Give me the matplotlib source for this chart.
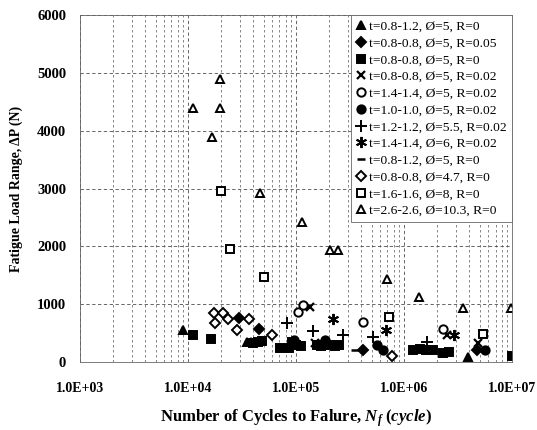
import matplotlib; matplotlib.use("Agg")
import matplotlib.pyplot as plt
from matplotlib.ticker import FixedLocator, FuncFormatter, LogLocator, NullFormatter

plt.rcParams["font.family"] = ["Liberation Serif", "DejaVu Serif"]
plt.rcParams["mathtext.fontset"] = "custom"
plt.rcParams["mathtext.it"] = "Liberation Serif:bold:italic"
plt.rcParams["mathtext.rm"] = "Liberation Serif:bold"

# ── data ──
labels = ["t=0.8-1.2, Ø=5, R=0", "t=0.8-0.8, Ø=5, R=0.05", "t=0.8-0.8, Ø=5, R=0",
          "t=0.8-0.8, Ø=5, R=0.02", "t=1.4-1.4, Ø=5, R=0.02", "t=1.0-1.0, Ø=5, R=0.02",
          "t=1.2-1.2, Ø=5.5, R=0.02", "t=1.4-1.4, Ø=6, R=0.02", "t=0.8-1.2, Ø=5, R=0",
          "t=0.8-0.8, Ø=4.7, R=0", "t=1.6-1.6, Ø=8, R=0", "t=2.6-2.6, Ø=10.3, R=0"]

tri_f_x = [9000, 35000, 38500, 3.9e6]
tri_f_y = [550, 340, 350, 90]
dia_f_x = [29600, 45400, 417000, 4.7e6]
dia_f_y = [760, 570, 210, 200]
sq_f_x = [11100, 16300, 40000, 44000, 48000, 71000, 85000, 92000, 100000, 110000,
          155000, 170000, 205000, 230000, 250000, 1.2e6, 1.4e6, 1.6e6, 1.85e6,
          2.3e6, 2.6e6, 1.0e7]
sq_f_y = [470, 400, 330, 350, 360, 240, 250, 350, 300, 280,
          300, 280, 300, 280, 300, 200, 220, 210, 200,
          150, 180, 110]
x_x = [135000, 150000, 2.5e6, 4.8e6]
x_y = [960, 330, 460, 330]
circ_o_x = [104000, 116000, 417000, 2.3e6]
circ_o_y = [860, 980, 690, 570]
circ_f_x = [95000, 186000, 560000, 640000, 5.6e6]
circ_f_y = [380, 380, 290, 210, 210]
plus_x = [82600, 143000, 272000, 516000, 1.63e6]
plus_y = [670, 540, 470, 430, 350]
star_x = [220000, 681000, 2.9e6]
star_y = [740, 550, 460]
dash_x = [352000]
dash_y = [210]
dia_o_x = [17400, 21100, 17800, 23500, 28400, 36700, 60000, 774000]
dia_o_y = [850, 850, 680, 750, 550, 740, 470, 110]
sq_o_x = [20200, 24500, 50600, 727000, 5.3e6]
sq_o_y = [2950, 1950, 1470, 780, 480]
tri_o_x = [11100, 16700, 19800, 19800, 46400, 113600, 205000, 245000,
           697000, 1.38e6, 3.52e6, 9.8e6]
tri_o_y = [4400, 3900, 4400, 4900, 2920, 2420, 1930, 1930,
           1440, 1120, 940, 940]

series = [(tri_f_x, tri_f_y, dict(marker="^", mfc="k")),
          (dia_f_x, dia_f_y, dict(marker="D", mfc="k", ms=5)),
          (sq_f_x, sq_f_y, dict(marker="s", mfc="k")),
          (x_x, x_y, dict(marker="x", mew=1.6)),
          (circ_o_x, circ_o_y, dict(marker="o", mfc="white")),
          (circ_f_x, circ_f_y, dict(marker="o", mfc="k")),
          (plus_x, plus_y, dict(marker="+", mew=1.4, ms=8)),
          (star_x, star_y, dict(marker=(6, 2, 0), mew=1.4, ms=8)),
          (dash_x, dash_y, dict(marker="_", mew=1.8)),
          (dia_o_x, dia_o_y, dict(marker="D", mfc="white", ms=5)),
          (sq_o_x, sq_o_y, dict(marker="s", mfc="white")),
          (tri_o_x, tri_o_y, dict(marker="^", mfc="white"))]

fig = plt.figure(figsize=(5.37, 4.30), dpi=100)
ax = fig.add_axes([0.149, 0.158, 0.805, 0.807])

for (xs, ys, st), lab in zip(series, labels):
    kw = dict(ls="none", color="k", mec="k", ms=6, mew=1.4)
    kw.update(st)
    ax.plot(xs, ys, label=lab, **kw)

ax.set_xscale("log")
ax.set_xlim(1e3, 1e7); ax.set_ylim(0, 6000)
ax.xaxis.set_major_locator(FixedLocator([1e3, 1e4, 1e5, 1e6, 1e7]))
ax.xaxis.set_major_formatter(FuncFormatter(lambda v, p: f"{v:.1E}"))
ax.xaxis.set_minor_locator(LogLocator(base=10, subs=range(2, 10)))
ax.xaxis.set_minor_formatter(NullFormatter())
ax.set_yticks(range(0, 6001, 1000))
ax.tick_params(which="both", length=0, labelsize=10.5)
ax.tick_params(axis="x", labelsize=10, pad=14)
ax.tick_params(axis="y", pad=10)
for t in ax.get_xticklabels() + ax.get_yticklabels():
    t.set_fontweight("bold")

ax.grid(True, which="major", color="0.3", ls=(0, (4, 3)), lw=0.6)
ax.grid(True, which="minor", axis="x", color="0.45", ls=(0, (3, 3)), lw=0.6)
ax.set_axisbelow(True)
for s in ax.spines.values():
    s.set_color("0.4"); s.set_linewidth(0.6)

ax.set_ylabel("Fatigue Load Range, ΔP (N)", fontsize=10, fontweight="bold", labelpad=10)
ax.set_xlabel("Number of Cycles to Falure, $N_f$ $(cycle)$", fontsize=12,
              fontweight="bold", labelpad=9)

leg = ax.legend(loc="upper right", fontsize=9.7, borderaxespad=0, handlelength=0.7,
                handletextpad=0.25, labelspacing=0.32, frameon=True, fancybox=False,
                borderpad=0.4, framealpha=1)
leg.get_frame().set_edgecolor("0.4"); leg.get_frame().set_linewidth(0.6)

fig.savefig("out.png", dpi=100, facecolor="white")
